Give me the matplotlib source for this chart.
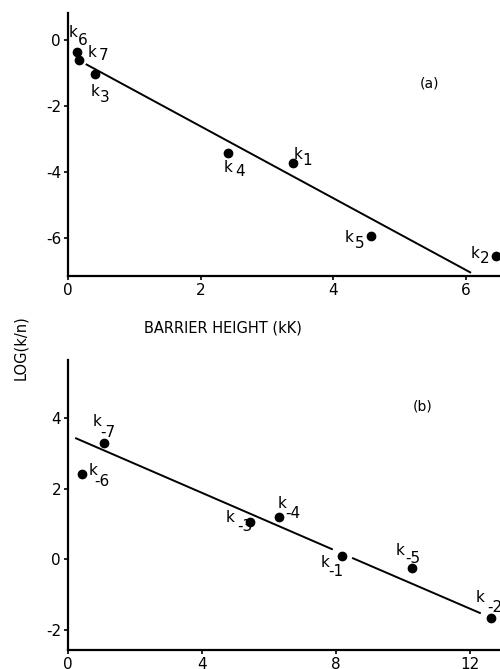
import matplotlib.pyplot as plt

# panel (a): forward rate constants vs barrier height
top_labels = ['6', '7', '3', '4', '1', '5', '2']
top_x = [0.13, 0.17, 0.41, 2.42, 3.39, 4.57, 6.46]
top_y = [-0.36, -0.58, -1.03, -3.42, -3.73, -5.94, -6.52]
top_fit_x = [0.28, 6.07]
top_fit_y = [-0.73, -7.03]

# panel (b): reverse rate constants
bot_labels = ['-7', '-6', '-3', '-4', '-1', '-5', '-2']
bot_x = [1.07, 0.42, 5.43, 6.30, 8.18, 10.27, 12.63]
bot_y = [3.29, 2.42, 1.05, 1.20, 0.10, -0.25, -1.66]
bot_fit1_x = [0.24, 7.88]
bot_fit1_y = [3.43, 0.29]
bot_fit2_x = [8.51, 12.3]
bot_fit2_y = [0.03, -1.52]

# label offsets in pixels (k, subscript), y pointing up
top_offsets = [((-4, 20), (6, 12)), ((13, 7), (24, 4)), ((0, -17), (10, -23)),
               ((0, -14), (12, -18)), ((5, 9), (15, 3)), ((-22, -1), (-11, -7)),
               ((-21, 2), (-11, -3))]
bot_offsets = [((-7, 22), (4, 11)), ((11, 3), (20, -8)), ((-20, 5), (-5, -4)),
               ((3, 13), (14, 3)), ((-17, -7), (-6, -16)), ((-12, 18), (1, 10)),
               ((-11, 20), (4, 10))]

plt.rcParams['font.family'] = 'DejaVu Sans'
plt.rcParams['axes.unicode_minus'] = False

fig = plt.figure(figsize=(5, 6.69), dpi=100)
ax1 = fig.add_axes([0.136, 0.587, 0.864, 0.393])
ax2 = fig.add_axes([0.136, 0.0284, 0.864, 0.4335])


def style(ax):
    for s in ['top', 'right']:
        ax.spines[s].set_visible(False)
    for s in ['left', 'bottom']:
        ax.spines[s].set_linewidth(1.6)
    ax.tick_params(direction='out', length=3, width=1.2, pad=2, labelsize=11)


def label_points(ax, xs, ys, labels, offsets):
    for x, y, lab, (ko, so) in zip(xs, ys, labels, offsets):
        ax.annotate('k', (x, y), xytext=ko, textcoords='offset pixels',
                    ha='center', va='center', fontsize=11, annotation_clip=False)
        ax.annotate(lab, (x, y), xytext=so, textcoords='offset pixels',
                    ha='center', va='center', fontsize=11, annotation_clip=False)


# (a)
ax1.plot(top_fit_x, top_fit_y, color='black', lw=1.4)
ax1.plot(top_x, top_y, 'o', color='black', ms=6, clip_on=False)
label_points(ax1, top_x, top_y, top_labels, top_offsets)
ax1.set_xlim(0, 6.52)
ax1.set_ylim(-7.15, 0.82)
ax1.set_xticks([0, 2, 4, 6])
ax1.set_yticks([0, -2, -4, -6])
ax1.text(5.46, -1.31, '(a)', ha='center', va='center', fontsize=10)
style(ax1)

# (b)
ax2.plot(bot_fit1_x, bot_fit1_y, color='black', lw=1.4)
ax2.plot(bot_fit2_x, bot_fit2_y, color='black', lw=1.4)
ax2.plot(bot_x, bot_y, 'o', color='black', ms=6, clip_on=False)
label_points(ax2, bot_x, bot_y, bot_labels, bot_offsets)
ax2.set_xlim(0, 12.9)
ax2.set_ylim(-2.57, 5.65)
ax2.set_xticks([0, 4, 8, 12])
ax2.set_yticks([4, 2, 0, -2])
ax2.text(10.6, 4.34, '(b)', ha='center', va='center', fontsize=10)
style(ax2)

fig.text(223 / 500, 1 - 328 / 669, 'BARRIER HEIGHT (kK)', ha='center', va='center', fontsize=10.5)
fig.text(21 / 500, 1 - 348 / 669, 'LOG(k/n)', ha='center', va='center', rotation=90, fontsize=10.5)

fig.savefig('out.png', dpi=100)
